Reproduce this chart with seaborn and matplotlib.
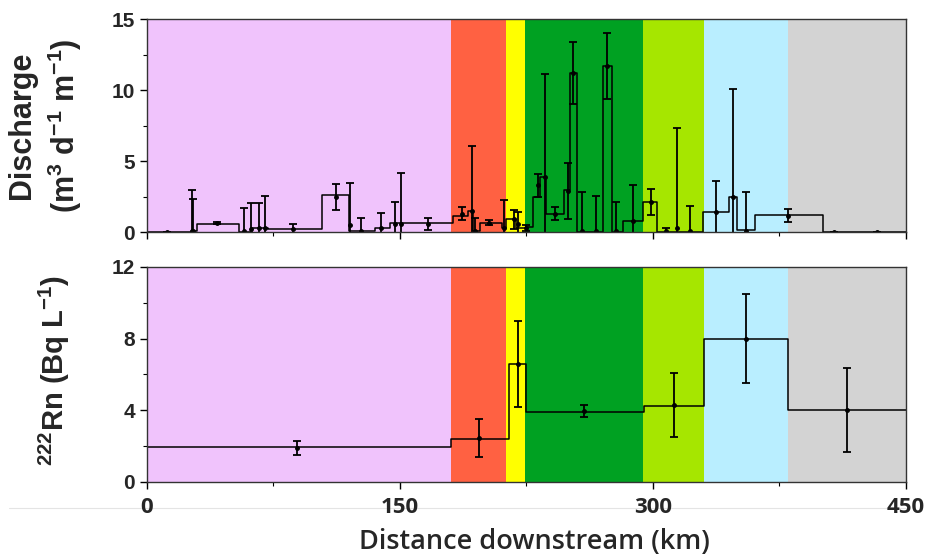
import numpy as np
import matplotlib
matplotlib.use("Agg")
import matplotlib.pyplot as plt
from matplotlib.ticker import MultipleLocator
from matplotlib.lines import Line2D
import seaborn as sns

# ---------------------------------------------------------------
# Data
# ---------------------------------------------------------------
# river sections shown as coloured bands (km)
zone_edges = [0, 180, 213, 224, 294, 330, 380, 450]
zone_colors = ["#F0C3FC", "#FF6142", "#FFFF00", "#00A122",
               "#A6E600", "#B9EEFF", "#D3D3D3"]

# discharge, step profile: left edge of each reach and its value
q_edges = [0, 26, 29.8, 54.7, 62, 72, 104, 120, 135, 144, 181.6, 190.5,
           193, 197.4, 210.3, 213, 219, 224.7, 229, 233, 236.6, 247,
           250.8, 254.8, 270.5, 275.5, 282, 293.8, 302.6, 329.8, 345.2,
           349.6, 360.5, 400.6, 450]
q_vals = [0.0, 0.1, 0.6, 0.05, 0.3, 0.2, 2.6, 0.1, 0.28, 0.62, 1.15, 1.5,
          0.1, 0.68, 0.28, 0.9, 0.3, 0.4, 2.5, 3.9, 1.3, 3.0,
          11.2, 0.05, 11.7, 0.05, 0.8, 2.15, 0.05, 1.45, 2.5,
          0.15, 1.2, 0.0]

# discharge estimates with uncertainty
q_x = [11.7, 26.5, 27.5, 41.3, 57.3, 61.7, 66.2, 69.8, 86.6, 112, 120.2,
       127, 139, 147, 150.4, 166.8, 186.6, 192.5, 194.5, 203, 211.8,
       217.6, 219.8, 224.7, 231.6, 236, 242, 249.4, 252.8, 258, 266,
       273, 277.9, 288, 298.8, 308, 314, 322, 337.3, 347.6, 355.1,
       380.2, 407.5, 432.6]
q_y = [0.05, 0.1, 0.1, 0.65, 0.1, 0.2, 0.3, 0.3, 0.2, 2.5, 0.5,
       0.1, 0.3, 0.6, 0.6, 0.57, 1.3, 1.5, 0.1, 0.68, 0.3,
       0.9, 0.6, 0.3, 3.3, 3.9, 1.3, 2.9, 11.2, 0.1, 0.1,
       11.7, 0.1, 0.8, 2.15, 0.1, 0.3, 0.1, 1.45, 2.5, 0.1,
       1.17, 0.05, 0.05]
q_err = [0.0, 2.9, 2.25, 0.05, 1.6, 1.85, 1.75, 2.25, 0.35, 0.9, 3.0,
         0.9, 1.05, 1.55, 3.6, 0.41, 0.47, 4.6, 0.9, 0.15, 1.95,
         0.7, 0.8, 0.2, 0.8, 7.2, 0.47, 1.95, 2.2, 2.7, 2.45,
         2.35, 2.05, 2.5, 0.9, 0.22, 7.0, 1.75, 2.15, 7.55, 2.75,
         0.47, 0.0, 0.0]

# radon, one value per section
rn_edges = [0, 180, 214.6, 225, 294.5, 330, 380, 450]
rn_vals = [1.95, 2.42, 6.6, 3.9, 4.26, 7.96, 4.0]
rn_x = [89, 197, 219.8, 259, 312.5, 355, 414.8]
rn_y = [1.9, 2.45, 6.6, 3.95, 4.3, 8.0, 4.0]
rn_err = [0.4, 1.05, 2.4, 0.35, 1.8, 2.5, 2.35]

xticks = [0, 150, 300, 450]

# ---------------------------------------------------------------
# Figure
# ---------------------------------------------------------------
sns.set_style("ticks")
plt.rcParams["font.family"] = ["Liberation Sans", "DejaVu Sans"]
plt.rcParams["axes.linewidth"] = 1.0
plt.rcParams["mathtext.fontset"] = "custom"
plt.rcParams["mathtext.rm"] = "Liberation Sans:bold"
plt.rcParams["mathtext.it"] = "Liberation Sans:bold"
plt.rcParams["mathtext.bf"] = "Liberation Sans:bold"
plt.rcParams["mathtext.default"] = "rm"

fig = plt.figure(figsize=(9.41, 5.56), dpi=100)
ax_q = fig.add_axes([0.1562, 0.5822, 0.8066, 0.3836])
ax_r = fig.add_axes([0.1562, 0.1331, 0.8066, 0.3867])


def draw_zones(ax):
    for i, c in enumerate(zone_colors):
        ax.axvspan(zone_edges[i], zone_edges[i + 1], color=c, lw=0, zorder=0)


def step_line(ax, edges, vals):
    y = list(vals) + [vals[-1]]
    sns.lineplot(x=edges, y=y, drawstyle="steps-post", estimator=None,
                 color="black", lw=1.1, ax=ax, zorder=3)


def style_axis(ax, ymax, ymaj, ymin):
    ax.set_xlim(0, 450)
    ax.set_ylim(0, ymax)
    ax.xaxis.set_major_locator(MultipleLocator(150))
    ax.xaxis.set_minor_locator(MultipleLocator(75))
    ax.yaxis.set_major_locator(MultipleLocator(ymaj))
    ax.yaxis.set_minor_locator(MultipleLocator(ymin))
    ax.tick_params(which="major", direction="out", length=5, width=1,
                   color="black")
    ax.tick_params(which="minor", direction="out", length=3, width=0.8,
                   color="black")
    for s in ax.spines.values():
        s.set_visible(True)
        s.set_color("#333333")
        s.set_zorder(5)
    for lab in ax.get_yticklabels():
        lab.set_fontweight("bold")
        lab.set_fontsize(15)


# top panel: discharge
draw_zones(ax_q)
step_line(ax_q, q_edges, q_vals)
ax_q.errorbar(q_x, q_y, yerr=q_err, fmt="o", ms=2.5, color="black",
              ecolor="black", elinewidth=1.3, capsize=3, capthick=1.3,
              zorder=4)
style_axis(ax_q, 15, 5, 2.5)
ax_q.set_xticklabels([])
ax_q.set_xlabel("")
ax_q.set_ylabel("Discharge\n(m$^3$ d$^{-1}$ m$^{-1}$)", fontsize=22,
                fontweight="bold", linespacing=1.3)
ax_q.yaxis.set_label_coords(-0.083, 0.5)

# bottom panel: radon
draw_zones(ax_r)
step_line(ax_r, rn_edges, rn_vals)
ax_r.errorbar(rn_x, rn_y, yerr=rn_err, fmt="o", ms=2.5, color="black",
              ecolor="black", elinewidth=1.3, capsize=3, capthick=1.3,
              zorder=4)
style_axis(ax_r, 12, 4, 2)
ax_r.set_xticks(xticks)
ax_r.set_xticklabels([str(v) for v in xticks], fontsize=16,
                     fontfamily="Open Sans", fontweight="bold")
ax_r.tick_params(axis="x", which="major", pad=6)
ax_r.set_ylabel("$^{222}$Rn (Bq L$^{-1}$)", fontsize=21,
                fontweight="bold")
ax_r.yaxis.set_label_coords(-0.099, 0.52)
ax_r.set_xlabel("Distance downstream (km)", fontsize=19.5,
                fontfamily="Open Sans", fontweight="semibold")
ax_r.xaxis.set_label_coords(0.51, -0.215)

# faint rule seen under the tick labels in the original
fig.add_artist(Line2D([0.01, 0.965], [1 - 508 / 556, 1 - 508 / 556],
                      color="#E4E4E4", lw=0.8, transform=fig.transFigure,
                      zorder=0))

fig.savefig("out.png", dpi=100)
